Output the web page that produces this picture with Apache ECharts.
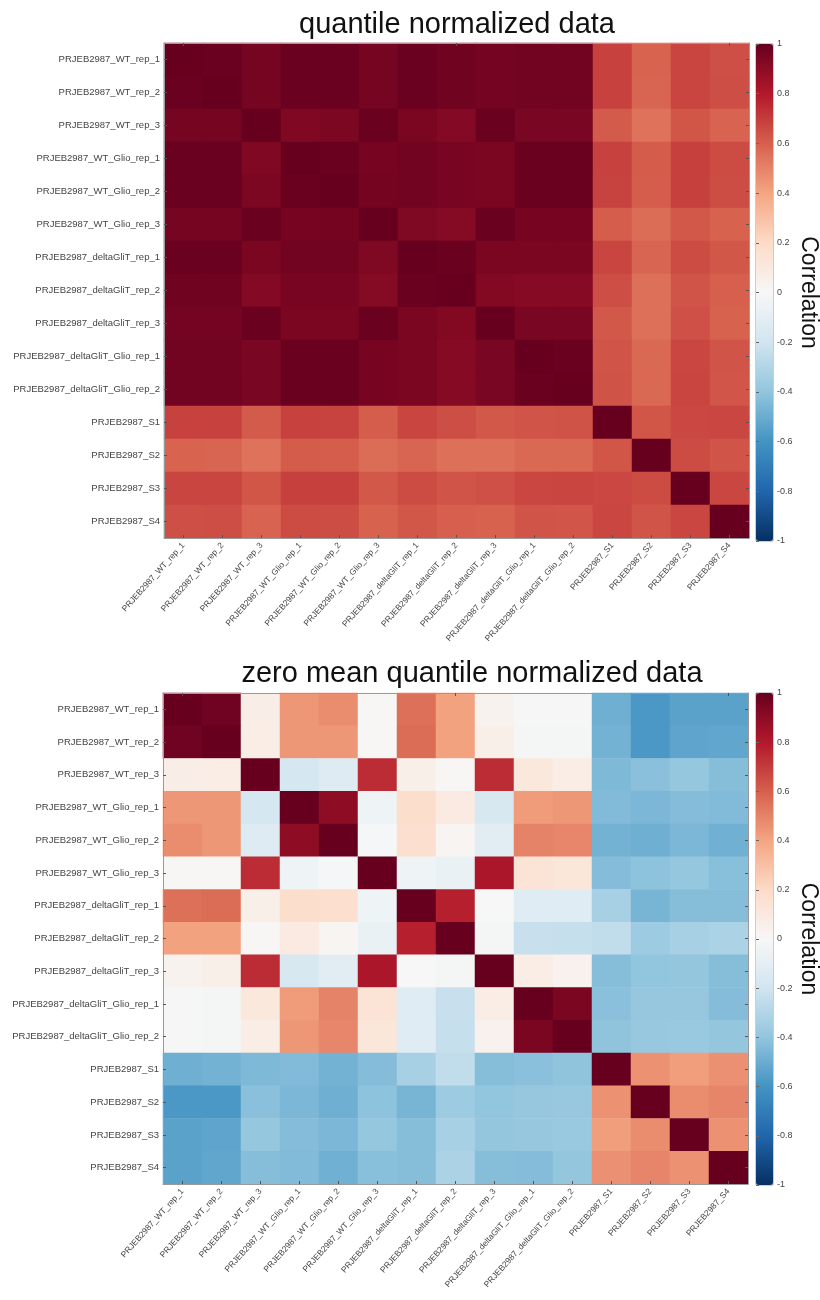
<!DOCTYPE html>
<html>
<head>
<meta charset="utf-8">
<title>Sample correlation heatmaps</title>
<script src="https://cdn.jsdelivr.net/npm/echarts@6/dist/echarts.min.js"></script>
<style>
  html, body { margin: 0; padding: 0; background: #ffffff; }
  #chart { width: 820px; height: 1300px; }
</style>
</head>
<body>
<div id="chart"></div>
<script>
// Sample names (rows top-to-bottom, columns left-to-right)
const sampleNames = [
  'PRJEB2987_WT_rep_1', 'PRJEB2987_WT_rep_2', 'PRJEB2987_WT_rep_3',
  'PRJEB2987_WT_Glio_rep_1', 'PRJEB2987_WT_Glio_rep_2', 'PRJEB2987_WT_Glio_rep_3',
  'PRJEB2987_deltaGliT_rep_1', 'PRJEB2987_deltaGliT_rep_2', 'PRJEB2987_deltaGliT_rep_3',
  'PRJEB2987_deltaGliT_Glio_rep_1', 'PRJEB2987_deltaGliT_Glio_rep_2',
  'PRJEB2987_S1', 'PRJEB2987_S2', 'PRJEB2987_S3', 'PRJEB2987_S4'
];

// Pearson correlation, quantile normalized data
const quantileCorr = [
  [1, 0.99, 0.962, 0.99, 0.99, 0.962, 0.99, 0.978, 0.964, 0.968, 0.97, 0.686, 0.587, 0.676, 0.648],
  [0.99, 1, 0.962, 0.99, 0.99, 0.962, 0.99, 0.978, 0.964, 0.968, 0.972, 0.684, 0.585, 0.674, 0.65],
  [0.962, 0.962, 1, 0.934, 0.944, 0.995, 0.948, 0.923, 0.995, 0.951, 0.951, 0.614, 0.548, 0.628, 0.59],
  [0.99, 0.99, 0.934, 1, 0.995, 0.957, 0.969, 0.954, 0.946, 0.995, 0.995, 0.683, 0.61, 0.689, 0.656],
  [0.99, 0.99, 0.944, 0.995, 1, 0.963, 0.969, 0.954, 0.946, 0.995, 0.995, 0.681, 0.608, 0.687, 0.653],
  [0.962, 0.962, 0.995, 0.957, 0.963, 1, 0.935, 0.919, 0.995, 0.958, 0.958, 0.609, 0.565, 0.622, 0.595],
  [0.99, 0.99, 0.948, 0.969, 0.969, 0.935, 1, 0.995, 0.948, 0.948, 0.948, 0.676, 0.585, 0.656, 0.626],
  [0.978, 0.978, 0.923, 0.954, 0.954, 0.919, 0.995, 1, 0.926, 0.916, 0.916, 0.651, 0.555, 0.632, 0.6],
  [0.964, 0.964, 0.995, 0.946, 0.946, 0.995, 0.948, 0.926, 1, 0.952, 0.952, 0.62, 0.555, 0.644, 0.592],
  [0.968, 0.968, 0.951, 0.995, 0.995, 0.958, 0.948, 0.916, 0.952, 1, 0.995, 0.634, 0.573, 0.672, 0.632],
  [0.97, 0.972, 0.951, 0.995, 0.995, 0.958, 0.948, 0.916, 0.952, 0.995, 1, 0.635, 0.575, 0.674, 0.63],
  [0.686, 0.684, 0.614, 0.683, 0.681, 0.609, 0.676, 0.651, 0.62, 0.634, 0.635, 1, 0.628, 0.668, 0.672],
  [0.587, 0.585, 0.548, 0.61, 0.608, 0.565, 0.585, 0.555, 0.555, 0.573, 0.575, 0.628, 1, 0.656, 0.633],
  [0.676, 0.674, 0.628, 0.689, 0.687, 0.622, 0.656, 0.632, 0.644, 0.672, 0.674, 0.668, 0.656, 1, 0.672],
  [0.648, 0.65, 0.59, 0.656, 0.653, 0.595, 0.626, 0.6, 0.592, 0.632, 0.63, 0.672, 0.633, 0.672, 1]
];

// Pearson correlation, zero mean quantile normalized data
const zeroMeanCorr = [
  [1, 0.975, 0.065, 0.44, 0.47, 0.01, 0.555, 0.41, 0.035, 0.005, 0.005, -0.49, -0.58, -0.54, -0.54],
  [0.975, 1, 0.07, 0.44, 0.44, 0.01, 0.565, 0.41, 0.06, -0.015, -0.015, -0.475, -0.58, -0.53, -0.525],
  [0.065, 0.07, 1, -0.18, -0.13, 0.744, 0.06, 0.01, 0.744, 0.11, 0.075, -0.45, -0.42, -0.39, -0.43],
  [0.44, 0.44, -0.18, 1, 0.895, -0.05, 0.18, 0.09, -0.165, 0.425, 0.44, -0.44, -0.455, -0.435, -0.44],
  [0.47, 0.44, -0.13, 0.895, 1, -0.01, 0.17, 0.025, -0.11, 0.5, 0.49, -0.475, -0.49, -0.455, -0.485],
  [0.01, 0.01, 0.744, -0.05, -0.01, 1, -0.05, -0.07, 0.82, 0.14, 0.12, -0.435, -0.41, -0.39, -0.425],
  [0.555, 0.565, 0.06, 0.18, 0.17, -0.05, 1, 0.78, 0.0, -0.125, -0.125, -0.33, -0.465, -0.43, -0.43],
  [0.41, 0.41, 0.01, 0.09, 0.025, -0.07, 0.78, 1, -0.015, -0.23, -0.235, -0.25, -0.365, -0.33, -0.32],
  [0.035, 0.06, 0.744, -0.165, -0.11, 0.82, 0.0, -0.015, 1, 0.07, 0.04, -0.43, -0.4, -0.395, -0.43],
  [0.005, -0.015, 0.11, 0.425, 0.5, 0.14, -0.125, -0.23, 0.07, 1, 0.95, -0.42, -0.385, -0.385, -0.435],
  [0.005, -0.015, 0.075, 0.44, 0.49, 0.12, -0.125, -0.235, 0.04, 0.95, 1, -0.405, -0.38, -0.378, -0.395],
  [-0.49, -0.475, -0.45, -0.44, -0.475, -0.435, -0.33, -0.25, -0.43, -0.42, -0.405, 1, 0.455, 0.42, 0.46],
  [-0.58, -0.58, -0.42, -0.455, -0.49, -0.41, -0.465, -0.365, -0.4, -0.385, -0.38, 0.455, 1, 0.47, 0.492],
  [-0.54, -0.53, -0.39, -0.435, -0.455, -0.39, -0.43, -0.33, -0.395, -0.385, -0.378, 0.42, 0.47, 1, 0.455],
  [-0.54, -0.525, -0.43, -0.44, -0.485, -0.425, -0.43, -0.32, -0.43, -0.435, -0.395, 0.46, 0.492, 0.455, 1]
];

const panelTitles = ['quantile normalized data', 'zero mean quantile normalized data'];
const colorbarName = 'Correlation';

// Diverging red-blue colour scale from -1 to 1
const rdbu = ['#053061', '#2166ac', '#4393c3', '#92c5de', '#d1e5f0', '#f7f7f7',
              '#fddbc7', '#f4a582', '#d6604d', '#b2182b', '#67001f'];

const FONT = '"Liberation Sans", Arial, Helvetica, sans-serif';

// panel geometry: heatmap box, colour bar box and title position
const panels = [
  { left: 164, top: 43, width: 585, height: 495, cbTop: 44, cbHeight: 497, titleX: 457, titleY: 25 },
  { left: 163, top: 693, width: 585, height: 491, cbTop: 693, cbHeight: 492, titleX: 472, titleY: 674 }
];
const CB_LEFT = 756, CB_WIDTH = 17;

function toCells(matrix) {
  const out = [];
  matrix.forEach((row, i) => row.forEach((v, j) => out.push([j, i, v])));
  return out;
}

const grid = [], xAxis = [], yAxis = [], series = [], visualMap = [], graphic = [];
const frameLine = { show: true, lineStyle: { color: '#9a9a9a', width: 1 } };
const innerTick = { show: true, inside: true, alignWithLabel: true, length: 3, lineStyle: { color: '#555' } };

panels.forEach((p, k) => {
  const g = grid.length;
  grid.push({ left: p.left, top: p.top, width: p.width, height: p.height,
              containLabel: false, outerBoundsMode: 'none' });
  grid.push({ left: CB_LEFT, top: p.cbTop, width: CB_WIDTH, height: p.cbHeight,
              containLabel: false, outerBoundsMode: 'none',
              show: true, borderColor: '#9a9a9a', borderWidth: 1, backgroundColor: 'transparent' });

  const xb = xAxis.length;
  xAxis.push({
    gridIndex: g, type: 'category', data: sampleNames, position: 'bottom', z: 5,
    axisLine: frameLine, axisTick: innerTick, splitLine: { show: false },
    axisLabel: { rotate: 48, fontSize: 8.4, color: '#444', fontFamily: FONT, margin: 6, interval: 0 }
  });
  xAxis.push({
    gridIndex: g, type: 'category', data: sampleNames, position: 'top', z: 5,
    axisLine: frameLine, axisTick: innerTick, axisLabel: { show: false }
  });
  xAxis.push({ gridIndex: g + 1, type: 'value', show: false, min: 0, max: 1 });

  const yb = yAxis.length;
  yAxis.push({
    gridIndex: g, type: 'category', data: sampleNames, inverse: true, position: 'left', z: 5,
    axisLine: frameLine, axisTick: innerTick, splitLine: { show: false },
    axisLabel: { fontSize: 9.5, color: '#444', fontFamily: FONT, margin: 4, interval: 0 }
  });
  yAxis.push({
    gridIndex: g, type: 'category', data: sampleNames, inverse: true, position: 'right', z: 5,
    axisLine: frameLine, axisTick: innerTick, axisLabel: { show: false }
  });
  yAxis.push({
    gridIndex: g + 1, type: 'value', min: -1, max: 1, interval: 0.2, position: 'right', z: 5,
    axisLine: { show: false }, splitLine: { show: false },
    axisTick: { show: true, length: 3, lineStyle: { color: '#666' } },
    axisLabel: { fontSize: 9, color: '#444', fontFamily: FONT, margin: 4,
                 formatter: v => String(Math.round(v * 10) / 10) },
    name: colorbarName, nameLocation: 'middle', nameRotate: -90, nameGap: 21,
    nameTextStyle: { fontSize: 23, color: '#111', fontFamily: FONT }
  });

  series.push({
    type: 'heatmap', xAxisIndex: xb, yAxisIndex: yb,
    data: toCells(k === 0 ? quantileCorr : zeroMeanCorr),
    emphasis: { disabled: true }, progressive: 0, animation: false
  });

  visualMap.push({
    type: 'continuous', seriesIndex: k, min: -1, max: 1, calculable: false, realtime: false,
    orient: 'vertical', left: CB_LEFT, top: p.cbTop, itemWidth: CB_WIDTH, itemHeight: p.cbHeight,
    padding: 0, text: null, hoverLink: false, inRange: { color: rdbu }
  });

  graphic.push({
    type: 'text', x: p.titleX, y: p.titleY, z: 10,
    style: { text: panelTitles[k], fill: '#111', font: '29px ' + FONT, align: 'center', verticalAlign: 'middle' }
  });
});

const chart = echarts.init(document.getElementById('chart'), null, { renderer: 'canvas' });
chart.setOption({
  animation: false,
  backgroundColor: '#ffffff',
  textStyle: { fontFamily: FONT },
  grid, xAxis, yAxis, series, visualMap, graphic,
  tooltip: { show: false }
});
</script>
</body>
</html>
